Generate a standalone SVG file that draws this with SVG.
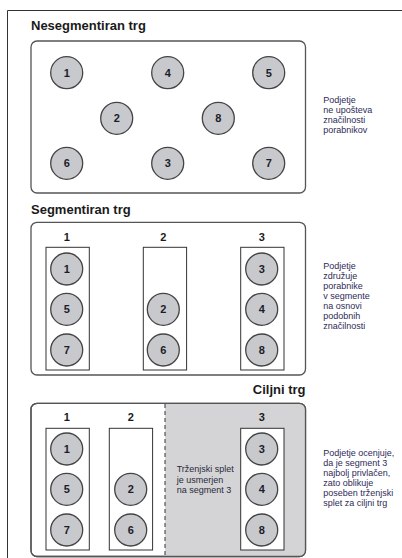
<svg xmlns="http://www.w3.org/2000/svg" width="402" height="558" viewBox="0 0 402 558">
  <defs>
    <style>
      .frame { fill: none; stroke: #333; stroke-width: 1; }
      .panel { fill: #fff; stroke: #555; stroke-width: 1.3; }
      .outline { fill: none; stroke: #555; stroke-width: 1.3; }
      .col { fill: #fff; stroke: #333; stroke-width: 1; }
      .cust circle { fill: #c8c9cd; stroke: #444; stroke-width: 1.3; }
      .cust text { font-family: "Liberation Sans", Arial, sans-serif; font-weight: bold; font-size: 11px; fill: #1c1c2a; text-anchor: middle; }
      .title { font-family: "Liberation Sans", Arial, sans-serif; font-weight: bold; font-size: 13px; fill: #1a1a1a; }
      .seg { font-family: "Liberation Sans", Arial, sans-serif; font-weight: bold; font-size: 11px; fill: #1a1a1a; text-anchor: middle; }
      .note { font-family: "Liberation Sans", Arial, sans-serif; font-size: 9px; fill: #2e2b58; }
      .inner { font-family: "Liberation Sans", Arial, sans-serif; font-size: 9px; fill: #2a2a3a; }
    </style>
  </defs>

  <rect width="402" height="558" fill="#fff"/>

  <!-- page frame -->
  <path class="frame" d="M7.5,558 V10.5 H402"/>

  <!-- ===== Nesegmentiran trg ===== -->
  <g id="panel-unsegmented">
    <text class="title" x="31" y="30">Nesegmentiran trg</text>
    <rect class="panel" x="31" y="41" width="274.5" height="152" rx="6"/>
    <g id="u1" class="cust"><circle cx="66.7" cy="72.7" r="16"/><text x="66.7" y="76.7">1</text></g>
    <g id="u4" class="cust"><circle cx="167.7" cy="72.7" r="16"/><text x="167.7" y="76.7">4</text></g>
    <g id="u5" class="cust"><circle cx="268.7" cy="72.7" r="16"/><text x="268.7" y="76.7">5</text></g>
    <g id="u2" class="cust"><circle cx="116.7" cy="118.3" r="16"/><text x="116.7" y="122.3">2</text></g>
    <g id="u8" class="cust"><circle cx="218.3" cy="118.3" r="16"/><text x="218.3" y="122.3">8</text></g>
    <g id="u6" class="cust"><circle cx="66.7" cy="163.3" r="16"/><text x="66.7" y="167.3">6</text></g>
    <g id="u3" class="cust"><circle cx="167.7" cy="163.3" r="16"/><text x="167.7" y="167.3">3</text></g>
    <g id="u7" class="cust"><circle cx="268.7" cy="163.3" r="16"/><text x="268.7" y="167.3">7</text></g>
    <text class="note">
      <tspan x="323.3" y="103">Podjetje</tspan>
      <tspan x="323.3" y="113">ne upošteva</tspan>
      <tspan x="323.3" y="123">značilnosti</tspan>
      <tspan x="323.3" y="133">porabnikov</tspan>
    </text>
  </g>

  <!-- ===== Segmentiran trg ===== -->
  <g id="panel-segmented">
    <text class="title" x="31" y="213.5">Segmentiran trg</text>
    <rect class="panel" x="31" y="222.3" width="274.5" height="152.7" rx="6"/>
    <text class="seg" x="66.7" y="241">1</text>
    <text class="seg" x="163.3" y="241">2</text>
    <text class="seg" x="261.7" y="241">3</text>
    <rect class="col" x="46" y="247.3" width="43.3" height="122.7"/>
    <rect class="col" x="143.3" y="247.3" width="43.3" height="122.7"/>
    <rect class="col" x="240.7" y="247.3" width="43.3" height="122.7"/>
    <g id="s1" class="cust"><circle cx="66.7" cy="269" r="16"/><text x="66.7" y="273">1</text></g>
    <g id="s5" class="cust"><circle cx="66.7" cy="309.3" r="16"/><text x="66.7" y="313.3">5</text></g>
    <g id="s7" class="cust"><circle cx="66.7" cy="350" r="16"/><text x="66.7" y="354">7</text></g>
    <g id="s2" class="cust"><circle cx="163.3" cy="309.3" r="16"/><text x="163.3" y="313.3">2</text></g>
    <g id="s6" class="cust"><circle cx="163.3" cy="350" r="16"/><text x="163.3" y="354">6</text></g>
    <g id="s3" class="cust"><circle cx="261.7" cy="269" r="16"/><text x="261.7" y="273">3</text></g>
    <g id="s4" class="cust"><circle cx="261.7" cy="309.3" r="16"/><text x="261.7" y="313.3">4</text></g>
    <g id="s8" class="cust"><circle cx="261.7" cy="350" r="16"/><text x="261.7" y="354">8</text></g>
    <text class="note">
      <tspan x="323.3" y="268.5">Podjetje</tspan>
      <tspan x="323.3" y="278.5">združuje</tspan>
      <tspan x="323.3" y="288.5">porabnike</tspan>
      <tspan x="323.3" y="298.5">v segmente</tspan>
      <tspan x="323.3" y="308.5">na osnovi</tspan>
      <tspan x="323.3" y="318.5">podobnih</tspan>
      <tspan x="323.3" y="328.5">značilnosti</tspan>
    </text>
  </g>

  <!-- ===== Ciljni trg ===== -->
  <g id="panel-target">
    <text class="title" x="305.5" y="393.5" text-anchor="end">Ciljni trg</text>
    <rect class="panel" x="31" y="403.3" width="274.5" height="153.2" rx="6"/>
    <!-- shaded target segment -->
    <path d="M165,403.3 H299.5 A6,6 0 0 1 305.5,409.3 V550.5 A6,6 0 0 1 299.5,556.5 H165 Z" fill="#d4d4d6"/>
    <rect class="outline" x="31" y="403.3" width="274.5" height="153.2" rx="6"/>
    <line x1="165" y1="404" x2="165" y2="556" stroke="#333" stroke-width="1" stroke-dasharray="4,3"/>
    <text class="seg" x="66.7" y="421">1</text>
    <text class="seg" x="130.7" y="421">2</text>
    <text class="seg" x="261.7" y="421">3</text>
    <rect class="col" x="46" y="428.3" width="43.3" height="121.7"/>
    <rect class="col" x="109.3" y="428.3" width="43.3" height="121.7"/>
    <rect class="col" x="240.7" y="428.3" width="43.3" height="121.7"/>
    <g id="t1" class="cust"><circle cx="66.7" cy="449" r="16"/><text x="66.7" y="453">1</text></g>
    <g id="t5" class="cust"><circle cx="66.7" cy="489.3" r="16"/><text x="66.7" y="493.3">5</text></g>
    <g id="t7" class="cust"><circle cx="66.7" cy="530" r="16"/><text x="66.7" y="534">7</text></g>
    <g id="t2" class="cust"><circle cx="130.7" cy="489.3" r="16"/><text x="130.7" y="493.3">2</text></g>
    <g id="t6" class="cust"><circle cx="130.7" cy="530" r="16"/><text x="130.7" y="534">6</text></g>
    <g id="t3" class="cust"><circle cx="261.7" cy="449" r="16"/><text x="261.7" y="453">3</text></g>
    <g id="t4" class="cust"><circle cx="261.7" cy="489.3" r="16"/><text x="261.7" y="493.3">4</text></g>
    <g id="t8" class="cust"><circle cx="261.7" cy="530" r="16"/><text x="261.7" y="534">8</text></g>
    <text class="inner">
      <tspan x="176.7" y="472">Trženjski splet</tspan>
      <tspan x="176.7" y="482.5">je usmerjen</tspan>
      <tspan x="176.7" y="493">na segment 3</tspan>
    </text>
    <text class="note">
      <tspan x="323.3" y="455.5">Podjetje ocenjuje,</tspan>
      <tspan x="323.3" y="465.5">da je segment 3</tspan>
      <tspan x="323.3" y="475.5">najbolj privlačen,</tspan>
      <tspan x="323.3" y="485.5">zato oblikuje</tspan>
      <tspan x="323.3" y="495.5">poseben trženjski</tspan>
      <tspan x="323.3" y="505.5">splet za ciljni trg</tspan>
    </text>
  </g>
</svg>
